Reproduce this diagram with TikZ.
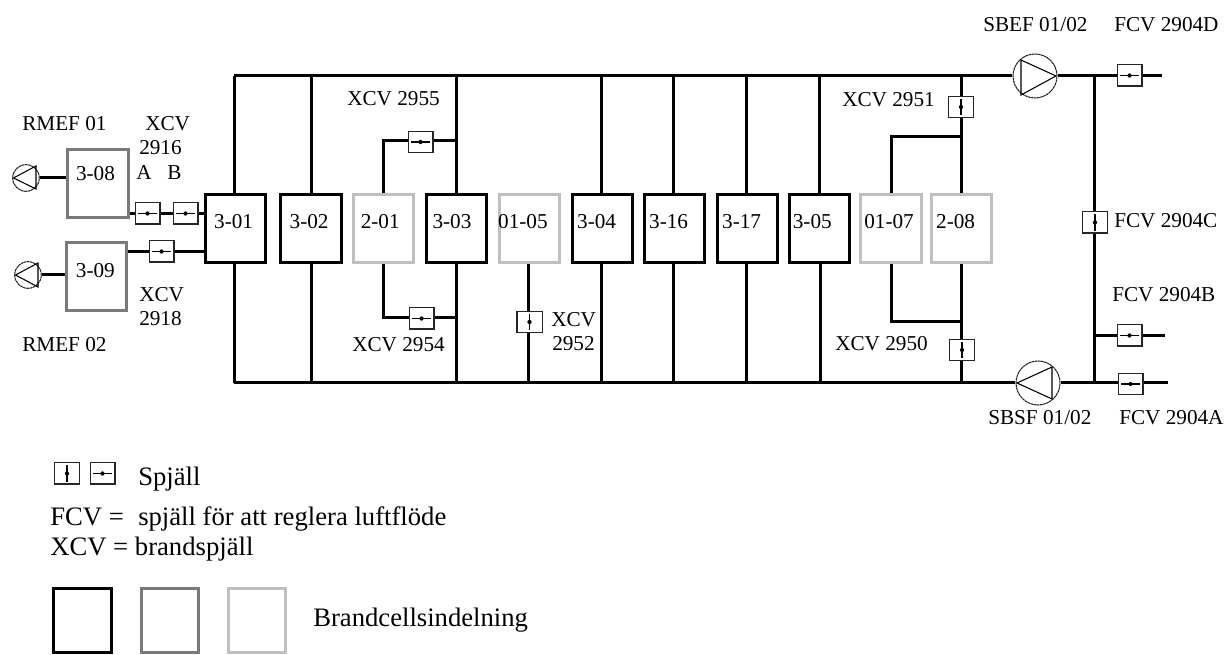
\documentclass[tikz,border=0pt]{standalone}
\usepackage{fontspec}
\setmainfont{Liberation Serif}
\newcommand{\boxtext}[3][0.5pt]{\raisebox{#1}[0pt][0pt]{\makebox[0pt][l]{\kern#2pt #3}}}
\tikzset{
  x=0.75pt,y=-0.75pt,
  every node/.style={font=\fontsize{15.9}{18}\selectfont},
  lbl/.style={anchor=base west,inner sep=0pt,text=black},
  big/.style={lbl,font=\fontsize{20}{24}\selectfont},
  cell/.style={draw,fill=white,rectangle,inner sep=0pt,minimum width=45.5pt,minimum height=51pt,line width=2.25pt},
  cellA/.style={cell,draw=black},
  cellB/.style={cell,draw=gray!95!black},
  cellC/.style={cell,draw=gray!50},
  bus/.style={line width=2.25pt,line cap=butt},
  hdamp/.style={draw=black!85,fill=white,rectangle,inner sep=0pt,line width=1pt,minimum width=18.5pt,minimum height=16pt,
    path picture={\draw[black,line width=.8pt] ([xshift=-6.8pt]path picture bounding box.center)--([xshift=6.8pt]path picture bounding box.center);
    \fill[black] (path picture bounding box.center) circle (1.6pt);}},
  vdamp/.style={draw=black!85,fill=white,rectangle,inner sep=0pt,line width=1pt,minimum width=19pt,minimum height=16pt,
    path picture={\draw[black,line width=1pt] ([yshift=-6.2pt]path picture bounding box.center)--([yshift=6.2pt]path picture bounding box.center);
    \fill[black] (path picture bounding box.center) circle (1.6pt);}},
  fan/.style={draw=black!85,fill=white,circle,inner sep=0pt,line width=.8pt,dash pattern=on 2pt off .4pt},
}
\begin{document}
\begin{tikzpicture}
\useasboundingbox (0,0) rectangle (1224,655);
% junctions
\coordinate (tl) at (234,76); \coordinate (bl) at (234,383);
\coordinate (t302) at (311,76); \coordinate (b302) at (311,383);
\coordinate (t303) at (456,76); \coordinate (b303) at (456,383);
\coordinate (b0105) at (528,383);
\coordinate (t304) at (601,76); \coordinate (b304) at (601,383);
\coordinate (t316) at (673,76); \coordinate (b316) at (673,383);
\coordinate (t317) at (746,76); \coordinate (b317) at (746,383);
\coordinate (t305) at (819,76); \coordinate (b305) at (820,383);
\coordinate (tj) at (961,76); \coordinate (bj) at (961,383);
\coordinate (tr) at (1094,76); \coordinate (br) at (1094,383);
\coordinate (jb) at (1094,336);
\coordinate (e1) at (1162,76); \coordinate (e2) at (1165,336); \coordinate (e3) at (1168,383);
\coordinate (j955) at (456,141); \coordinate (j954) at (456,318);
\coordinate (j951) at (961,137); \coordinate (j950) at (961,322);
\coordinate (c955) at (383,141); \coordinate (c954) at (383,318);
\coordinate (c951) at (891,137); \coordinate (c950) at (891,322);
% cells
\node[cellA] (c301) at (235.5,229) {\boxtext{-16}{3-01}};
\node[cellA] (c302) at (311,229) {\boxtext{-16}{3-02}};
\node[cellC] (c201) at (383.5,229) {\boxtext{-17}{2-01}};
\node[cellA] (c303) at (456.5,229) {\boxtext{-18}{3-03}};
\node[cellC] (c0105) at (529.5,229) {\boxtext{-23.5}{01-05}};
\node[cellA] (c304) at (602.5,229) {\boxtext{-19}{3-04}};
\node[cellA] (c316) at (674.5,229) {\boxtext{-19}{3-16}};
\node[cellA] (c317) at (747.5,229) {\boxtext{-19}{3-17}};
\node[cellA] (c305) at (819.5,229) {\boxtext{-20}{3-05}};
\node[cellC] (c0107) at (891,229) {\boxtext{-20}{01-07}};
\node[cellC] (c208) at (961.5,229) {\boxtext{-19}{2-08}};
\node[cellB] (c308) at (98,184) {\boxtext[2.4pt]{-16.5}{3-08}};
\node[cellB] (c309) at (96.5,276.5) {\boxtext[-1.1pt]{-15.4}{3-09}};
% fans
\node[fan,minimum size=20pt] (f1) at (26,178) {};
\node[fan,minimum size=20pt] (f2) at (28,275) {};
\node[fan,minimum size=33pt] (sbef) at (1035,76) {};
\node[fan,minimum size=33pt] (sbsf) at (1038,383) {};
\draw[line width=.8pt] (13.5,178)--(36,166)--(36,189)--cycle;
\draw[line width=.8pt] (15.5,275)--(38,263)--(38,287)--cycle;
\draw[line width=.8pt] (1056,76)--(1021,60)--(1021,95)--cycle;
\draw[line width=.8pt] (1017,383)--(1052,367)--(1052,399)--cycle;
% dampers
\node[hdamp] (dA) at (147.5,213.5) {};
\node[hdamp] (dB) at (185.5,213.5) {};
\node[hdamp] (d918) at (161.5,251.5) {};
\node[hdamp] (d955) at (420.5,142) {};
\node[hdamp] (d954) at (421.5,318.5) {};
\node[vdamp] (d952) at (529.5,322) {};
\node[vdamp] (d951) at (961,107) {};
\node[vdamp] (d950) at (962,350) {};
\node[vdamp] (dC) at (1095,222.5) {};
\node[hdamp] (dD) at (1129.5,75.5) {};
\node[hdamp] (dBB) at (1129.5,335.5) {};
\node[hdamp] (dAA) at (1130.5,384) {};
% connectors
\draw[bus] (tl) -- (t302) -- (t303) -- (t304) -- (t316) -- (t317) -- (t305) -- (tj) -- (sbef);
\draw[bus] (bl) -- (b302) -- (b303) -- (b0105) -- (b304) -- (b316) -- (b317) -- (b305) -- (bj) -- (sbsf);
\draw[bus] (tl) -- (c301.north -| tl);
\draw[bus] (bl) -- (c301.south -| bl);
\draw[bus] (t302) -- (c302.north -| t302);
\draw[bus] (b302) -- (c302.south -| b302);
\draw[bus] (t303) -- (c303.north -| t303);
\draw[bus] (b303) -- (c303.south -| b303);
\draw[bus] (t304) -- (c304.north -| t304);
\draw[bus] (b304) -- (c304.south -| b304);
\draw[bus] (t316) -- (c316.north -| t316);
\draw[bus] (b316) -- (c316.south -| b316);
\draw[bus] (t317) -- (c317.north -| t317);
\draw[bus] (b317) -- (c317.south -| b317);
\draw[bus] (t305) -- (c305.north -| t305);
\draw[bus] (b305) -- (c305.south -| b305);
\draw[bus] (b0105) -- (d952.south -| b0105);
\draw[bus] (d952.north -| b0105) -- (c0105.south -| b0105);
\draw[bus] (tj) -- (d951.north -| tj);
\draw[bus] (d951.south -| tj) -- (c208.north -| tj);
\draw[bus] (bj) -- (d950.south -| bj);
\draw[bus] (d950.north -| bj) -- (c208.south -| bj);
\draw[bus] (c201.north -| c955) -- (c955) -- (d955.west |- c955);
\draw[bus] (d955.east |- j955) -- (j955);
\draw[bus] (c201.south -| c954) -- (c954) -- (d954.west |- c954);
\draw[bus] (d954.east |- j954) -- (j954);
\draw[bus] (c0107.north -| c951) -- (c951) -- (j951);
\draw[bus] (c0107.south -| c950) -- (c950) -- (j950);
\draw[bus] (sbef) -- (tr) -- (dD.west |- tr);
\draw[bus] (dD.east |- e1) -- (e1);
\draw[bus] (sbsf) -- (br) -- (dAA.west |- br);
\draw[bus] (dAA.east |- e3) -- (e3);
\draw[bus] (tr) -- (dC.north -| tr);
\draw[bus] (dC.south -| tr) -- (br);
\draw[bus] (jb) -- (dBB.west |- jb);
\draw[bus] (dBB.east |- e2) -- (e2);
\draw[bus] (f1) -- (c308.west |- f1);
\draw[bus] (f2) -- (c309.west |- f2);
\draw[bus] (c308.east |- dA) -- (dA.west);
\draw[bus] (dA.east) -- (dB.west);
\draw[bus] (dB.east) -- (c301.west |- dB);
\draw[bus,line width=1.9pt] (c309.east |- d918) -- (d918.west);
\draw[bus,line width=1.9pt] (d918.east) -- (c301.west |- d918);
% labels
\node[lbl] (t1) at (22,131) {RMEF 01};
\node[lbl] (t2) at (145,131) {XCV};
\node[lbl] (t3) at (139,155) {2916};
\node[lbl] (t4) at (136,180) {A};
\node[lbl] (t5) at (167,180) {B};
\node[lbl] (t6) at (139,302) {XCV};
\node[lbl] (t7) at (139,326) {2918};
\node[lbl] (t8) at (22,352) {RMEF 02};
\node[lbl] (t9) at (347,106) {XCV 2955};
\node[lbl] (t10) at (352,352) {XCV 2954};
\node[lbl] (t11) at (551,327) {XCV};
\node[lbl] (t12) at (552,351) {2952};
\node[lbl] (t13) at (842,107) {XCV 2951};
\node[lbl] (t14) at (835,351) {XCV 2950};
\node[lbl] (t15) at (983,32) {SBEF 01/02};
\node[lbl] (t16) at (1114,32) {FCV 2904D};
\node[lbl] (t17) at (1114,228) {FCV 2904C};
\node[lbl] (t18) at (1112,302) {FCV 2904B};
\node[lbl] (t19) at (988,425) {SBSF 01/02};
\node[lbl] (t20) at (1119,425) {FCV 2904A};
% legend
\node[vdamp] (l1) at (67,473.5) {};
\node[hdamp] (l2) at (102.5,473.5) {};
\node[big] (t21) at (138,485) {Spjäll};
\node[big] (t22) at (50,525) {FCV =};
\node[big] (t23) at (138,525) {spjäll för att reglera luftflöde};
\node[big] (t24) at (50,555) {XCV = brandspjäll};
\node[cellA,minimum width=43pt,minimum height=47.5pt] (l3) at (82.5,620.5) {};
\node[cellB,minimum width=43pt,minimum height=47.5pt] (l4) at (170,620.5) {};
\node[cellC,minimum width=43pt,minimum height=47.5pt] (l5) at (257,620.5) {};
\node[big] (t25) at (313,626) {Brandcellsindelning};
\end{tikzpicture}
\end{document}
